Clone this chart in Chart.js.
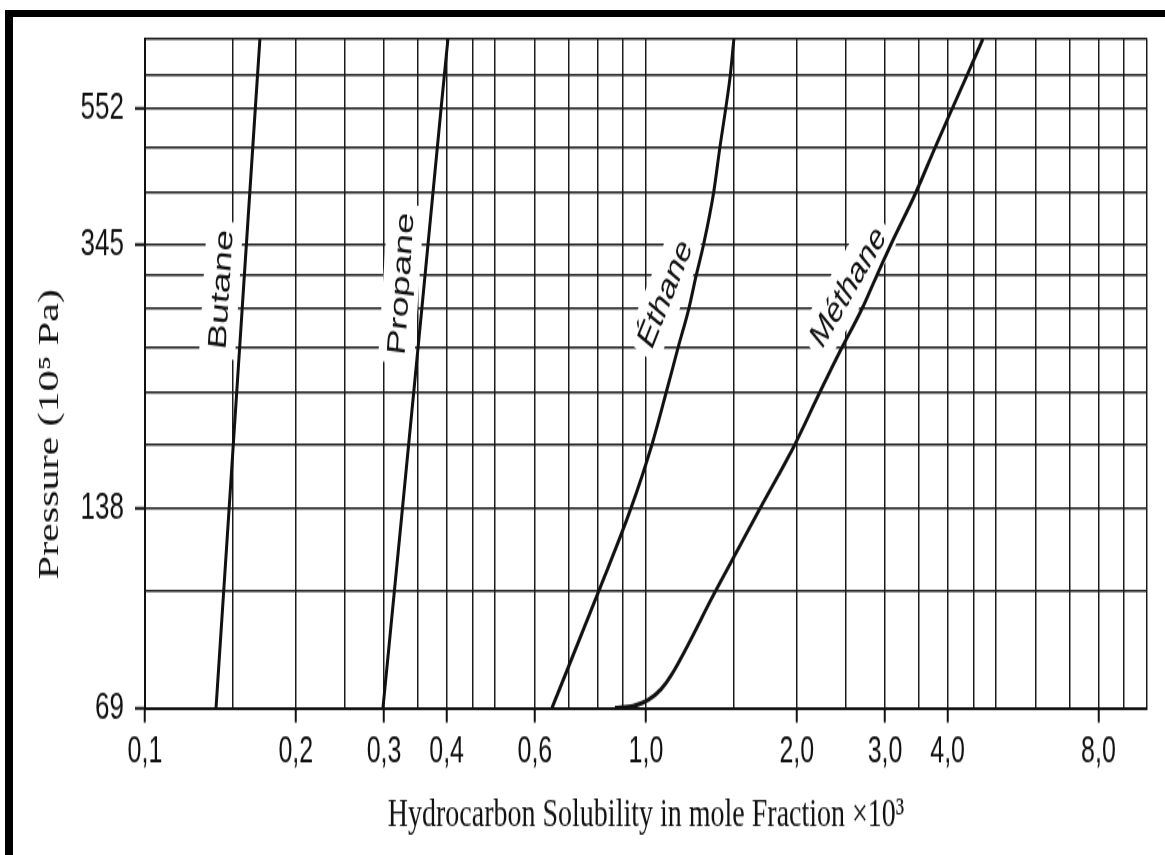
<!DOCTYPE html>
<html>
<head>
<meta charset="utf-8">
<title>Hydrocarbon Solubility</title>
<script src="https://cdn.jsdelivr.net/npm/chart.js@4.4.1/dist/chart.umd.min.js"></script>
<style>
  html, body { margin: 0; padding: 0; background: #fff; }
  body { width: 1165px; height: 855px; position: relative; overflow: hidden; }
  /* the scanned figure is stretched vertically, so the canvas is drawn flat and scaled up */
  #wrap { position: absolute; left: 0; top: 0; width: 1165px; height: 590px;
          transform: scale(1, 1.449153); transform-origin: 0 0; }
  .bar { position: absolute; background: #000; z-index: 2; }
</style>
</head>
<body>
<div class="bar" style="left:5px; top:10px; width:8px; height:845px;"></div>
<div class="bar" style="left:5px; top:10px; width:1160px; height:7px;"></div>
<div id="wrap"><canvas id="chart" width="1165" height="590"></canvas></div>
<script>
// pressure in 1e5 Pa, solubility in mole fraction x 1e3
const butaneSolubility = [0.1386, 0.1472, 0.1563, 0.166, 0.1696];
const butanePressure   = [69, 138, 276, 552, 705];

const propaneSolubility = [0.2985, 0.3265, 0.3569, 0.3898, 0.4025];
const propanePressure   = [69, 138, 276, 552, 705];

const ethaneSolubility = [0.649, 0.804, 0.933, 1.028, 1.098, 1.159, 1.217, 1.26, 1.303, 1.365, 1.404, 1.442, 1.473, 1.498];
const ethanePressure   = [69, 103.4, 138, 172.4, 206.8, 241.3, 275.8, 310.3, 345, 413.7, 482.6, 552, 620.5, 705];

const methaneSolubility = [0.867, 0.942, 1.011, 1.072, 1.125, 1.375, 1.689, 1.983, 2.225, 2.462, 2.698, 2.892, 3.083, 3.459, 3.774, 4.081, 4.372, 4.707];
const methanePressure   = [69, 69.5, 71.0, 73.7, 77.5, 103.4, 138, 172.4, 206.8, 241.3, 275.8, 310.3, 345, 413.7, 482.6, 552, 620.5, 705];

// grid lines and labelled ticks
const pressureTicks = [69, 103.4, 138, 172.4, 206.8, 241.3, 275.8, 310.3, 345, 413.7, 482.6, 552, 620.5, 705];
const pressureLabels = [69, 138, 345, 552];
const solubilityTicks = [0.1, 0.15, 0.2, 0.25, 0.3, 0.35, 0.4, 0.45, 0.5, 0.6, 0.7, 0.8, 0.9, 1.0,
                         1.5, 2.0, 2.5, 3.0, 3.5, 4.0, 4.5, 5.0, 6.0, 7.0, 8.0, 9.0, 10.0];
const solubilityLabels = [0.1, 0.2, 0.3, 0.4, 0.6, 1.0, 2.0, 3.0, 4.0, 8.0];

// names written along the curves
const curveNames = ['Butane', 'Propane', 'Éthane', 'Méthane'];
const nameSolubility = [0.1418, 0.3243, 1.091, 2.53];
const namePressure = [295, 301, 291, 298];
const nameAngle = [-85, -84.7, -60, -50];

const INK = '#111';
const sans = '"Liberation Sans", Arial, sans-serif';
const serif = '"Liberation Serif", "Times New Roman", serif';

function points(xs, ys) {
    return xs.map((v, i) => ({ x: v, y: ys[i] }));
}

const curveLabels = {
    id: 'curveLabels',
    beforeDatasetsDraw(chart) {
        const { ctx, scales: { x, y } } = chart;
        ctx.save();
        ctx.font = '26px ' + sans;
        curveNames.forEach((name, i) => {
            const px = x.getPixelForValue(nameSolubility[i]);
            const py = y.getPixelForValue(namePressure[i]);
            const w = ctx.measureText(name).width;
            ctx.save();
            ctx.translate(px, py);
            ctx.rotate(nameAngle[i] * Math.PI / 180);
            ctx.fillStyle = '#fff';
            ctx.fillRect(-w / 2 - 6, -18, w + 12, 36);
            ctx.fillStyle = INK;
            ctx.textAlign = 'center';
            ctx.textBaseline = 'middle';
            ctx.fillText(name, 0, 1);
            ctx.restore();
        });
        ctx.restore();
    }
};

const pressureTitle = {
    id: 'pressureTitle',
    afterDraw(chart) {
        const { ctx, chartArea } = chart;
        ctx.save();
        ctx.translate(50, (chartArea.top + chartArea.bottom) / 2 + 42);
        ctx.rotate(-Math.PI / 2);
        ctx.font = '29px ' + serif;
        ctx.fillStyle = INK;
        ctx.textAlign = 'center';
        ctx.textBaseline = 'middle';
        ctx.fillText('Pressure (10\u2075 Pa)', 0, 0);
        ctx.restore();
    }
};

const lineStyle = {
    borderColor: INK,
    borderWidth: 3,
    pointRadius: 0,
    fill: false,
    cubicInterpolationMode: 'monotone'
};

new Chart(document.getElementById('chart'), {
    type: 'line',
    data: {
        datasets: [
            { label: 'Butane', data: points(butaneSolubility, butanePressure), ...lineStyle },
            { label: 'Propane', data: points(propaneSolubility, propanePressure), ...lineStyle },
            { label: 'Éthane', data: points(ethaneSolubility, ethanePressure), ...lineStyle },
            { label: 'Méthane', data: points(methaneSolubility, methanePressure), ...lineStyle }
        ]
    },
    options: {
        responsive: false,
        animation: false,
        events: [],
        devicePixelRatio: 1,
        layout: { padding: { top: 25.5, right: 18, bottom: 0, left: 0 } },
        plugins: {
            legend: { display: false },
            tooltip: { enabled: false }
        },
        scales: {
            x: {
                type: 'logarithmic',
                min: 0.1,
                max: 10,
                afterBuildTicks: scale => { scale.ticks = solubilityTicks.map(v => ({ value: v })); },
                afterFit: scale => { scale.height = 101.4; },
                grid: {
                    color: '#1c1c1c',
                    lineWidth: 1.5,
                    tickLength: 10,
                    tickWidth: 2,
                    tickColor: c => (c.tick && solubilityLabels.includes(c.tick.value)) ? INK : 'rgba(0,0,0,0)'
                },
                border: { color: INK, width: 2 },
                ticks: {
                    autoSkip: false,
                    maxRotation: 0,
                    padding: 6,
                    color: INK,
                    font: { family: sans, size: 25 },
                    callback: v => solubilityLabels.includes(v) ? v.toFixed(1).replace('.', ',') : ''
                },
                title: {
                    display: true,
                    text: 'Hydrocarbon Solubility in mole Fraction \u00d710\u00b3',
                    color: INK,
                    font: { family: serif, size: 28 },
                    padding: { top: 0, bottom: 11 }
                }
            },
            y: {
                type: 'logarithmic',
                min: 69,
                max: 705,
                afterBuildTicks: scale => { scale.ticks = pressureTicks.map(v => ({ value: v })); },
                afterFit: scale => { scale.width = 145; },
                grid: {
                    color: '#1c1c1c',
                    lineWidth: 1.5,
                    tickLength: 10,
                    tickWidth: 2,
                    tickColor: c => (c.tick && pressureLabels.includes(c.tick.value)) ? INK : 'rgba(0,0,0,0)'
                },
                border: { color: INK, width: 2 },
                ticks: {
                    autoSkip: false,
                    padding: 11,
                    color: INK,
                    font: { family: sans, size: 26 },
                    callback: v => pressureLabels.includes(v) ? String(v) : ''
                }
            }
        }
    },
    plugins: [curveLabels, pressureTitle]
});
</script>
</body>
</html>
